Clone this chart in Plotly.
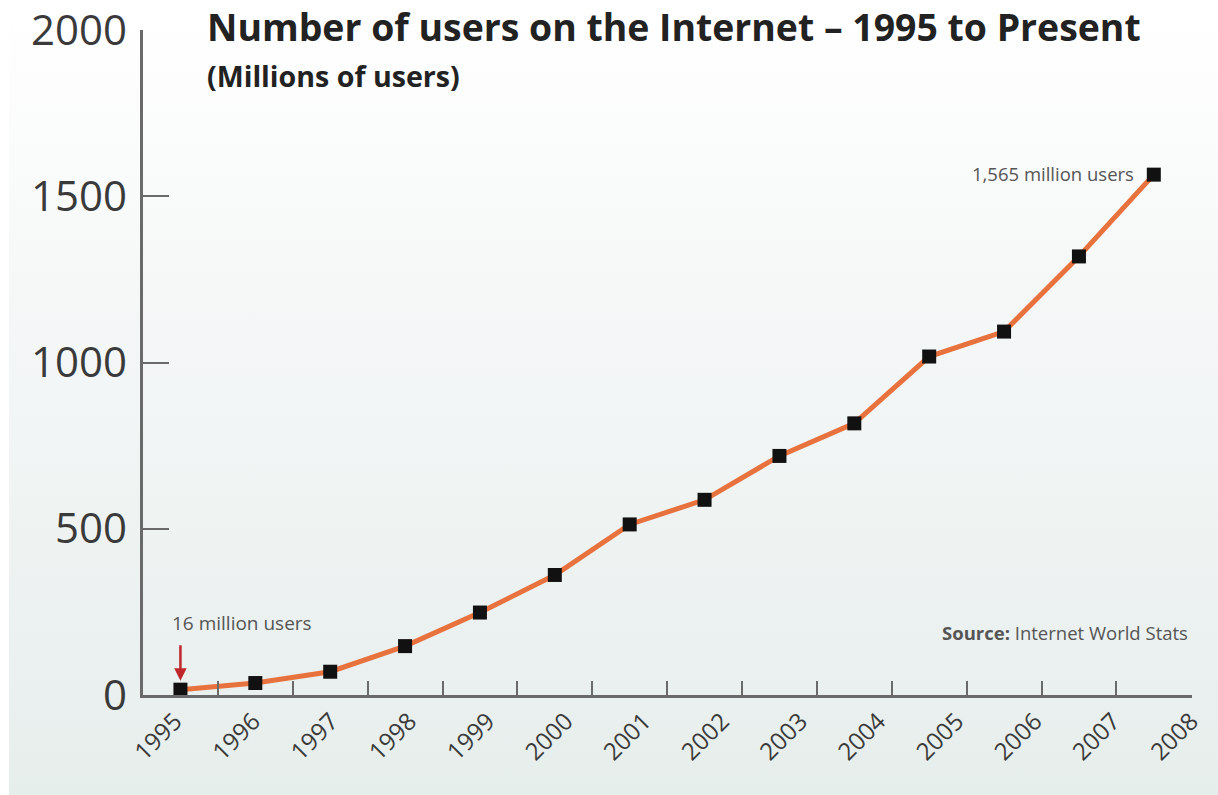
import base64
import plotly.graph_objects as go

years = ["1995", "1996", "1997", "1998", "1999", "2000", "2001", "2002",
         "2003", "2004", "2005", "2006", "2007", "2008"]
users = [16, 36, 70, 147, 248, 361, 513, 587, 719, 817, 1018, 1093, 1319, 1565]
y_ticks = [0, 500, 1000, 1500, 2000]

n = len(years)
x_pos = [i + 0.5 for i in range(n)]
label_pos = [0.427 + (14.0 - 0.427) / (n - 1) * i for i in range(n)]
boundary_ticks = list(range(n + 1))

W, H = 1218, 795
L, R, T, B = 143, 26, 30, 100
pw, ph = W - L - R, H - T - B


def px(page_x):
    return (page_x - L) / pw


def py(page_y):
    return (H - B - page_y) / ph


svg = ('<svg xmlns="http://www.w3.org/2000/svg" width="100" height="100" preserveAspectRatio="none">'
       '<defs><linearGradient id="g" x1="0" y1="0" x2="0" y2="1">'
       '<stop offset="0" stop-color="#ffffff"/>'
       '<stop offset="0.35" stop-color="#f6f8f8"/>'
       '<stop offset="1" stop-color="#e6eeec"/>'
       '</linearGradient></defs><rect width="100" height="100" fill="url(#g)"/></svg>')
src = "data:image/svg+xml;base64," + base64.b64encode(svg.encode()).decode()

axis_col = "#6a6a6a"
XR = [0, 14.01]
fig = go.Figure()
fig.add_trace(go.Scatter(
    x=x_pos, y=users, mode="lines+markers",
    line=dict(color="#e8723e", width=5),
    marker=dict(symbol="square", size=14, color="#111111"),
    hoverinfo="skip", showlegend=False))
fig.add_trace(go.Scatter(x=[0], y=[0], xaxis="x2", yaxis="y2", mode="markers",
                         marker=dict(opacity=0), showlegend=False, hoverinfo="skip"))

fig.update_layout(
    width=W, height=H,
    margin=dict(l=L, r=R, t=T, b=B, autoexpand=False),
    paper_bgcolor="white", plot_bgcolor="rgba(0,0,0,0)",
    font=dict(family="Open Sans", color="#333333"),
    images=[dict(source=src, xref="paper", yref="paper",
                 x=px(9), y=py(0), sizex=(W - 9) / pw, sizey=H / ph,
                 xanchor="left", yanchor="top", sizing="stretch", layer="below")],
    xaxis=dict(range=XR, tickmode="array", tickvals=label_pos, ticktext=years,
               tickangle=-45, ticks="", showgrid=False, zeroline=False,
               showline=True, linecolor=axis_col, linewidth=2.5,
               ticklabeloverflow="allow", automargin=False,
               tickfont=dict(size=24, color="#3a3a3a")),
    xaxis2=dict(range=XR, overlaying="x", side="bottom", tickmode="array",
                tickvals=boundary_ticks, ticks="inside", ticklen=14, tickwidth=2,
                tickcolor=axis_col, showticklabels=False, showgrid=False,
                zeroline=False, showline=False, automargin=False),
    yaxis=dict(range=[0, 2000], showticklabels=False, ticks="",
               showline=True, linecolor=axis_col, linewidth=2.5,
               showgrid=False, zeroline=False, automargin=False),
    yaxis2=dict(range=[0, 2000], overlaying="y", side="left", tickmode="array",
                tickvals=y_ticks, ticks="inside", ticklen=26, tickwidth=2,
                tickcolor=axis_col, showline=False, showgrid=False, zeroline=False,
                ticklabelstandoff=15, ticklabeloverflow="allow", automargin=False,
                tickfont=dict(size=42, color="#3a3a3a")),
)

fig.add_annotation(xref="paper", yref="paper", x=px(205), y=py(27),
                   xanchor="left", yanchor="middle", showarrow=False,
                   text="<b>Number of users on the Internet – 1995 to Present</b>",
                   font=dict(size=37.4, color="#222222"))
fig.add_annotation(xref="paper", yref="paper", x=px(205), y=py(75),
                   xanchor="left", yanchor="middle", showarrow=False,
                   text="<b>(Millions of users)</b>",
                   font=dict(size=28.6, color="#222222"))
fig.add_annotation(x=x_pos[0], y=users[0], text="", showarrow=True, ax=0, ay=-46,
                   arrowhead=2, arrowsize=1, arrowwidth=2.5, arrowcolor="#c0272d",
                   standoff=9)
fig.add_annotation(xref="paper", yref="paper", x=px(170), y=py(623),
                   xanchor="left", yanchor="middle", showarrow=False,
                   text="16 million users", font=dict(size=19, color="#555555"))
fig.add_annotation(x=x_pos[-1], y=users[-1], xanchor="right", yanchor="middle",
                   xshift=-18, yshift=1, showarrow=False,
                   text="1,565 million users", font=dict(size=18.5, color="#555555"))
fig.add_annotation(xref="paper", yref="paper", x=px(1190), y=py(632), xanchor="right",
                   yanchor="middle", showarrow=False,
                   text="<b>Source:</b> Internet World Stats",
                   font=dict(size=18.5, color="#555555"))

fig.write_html("out.html", config={"displayModeBar": False},
               post_script="document.body.style.margin='0';")
